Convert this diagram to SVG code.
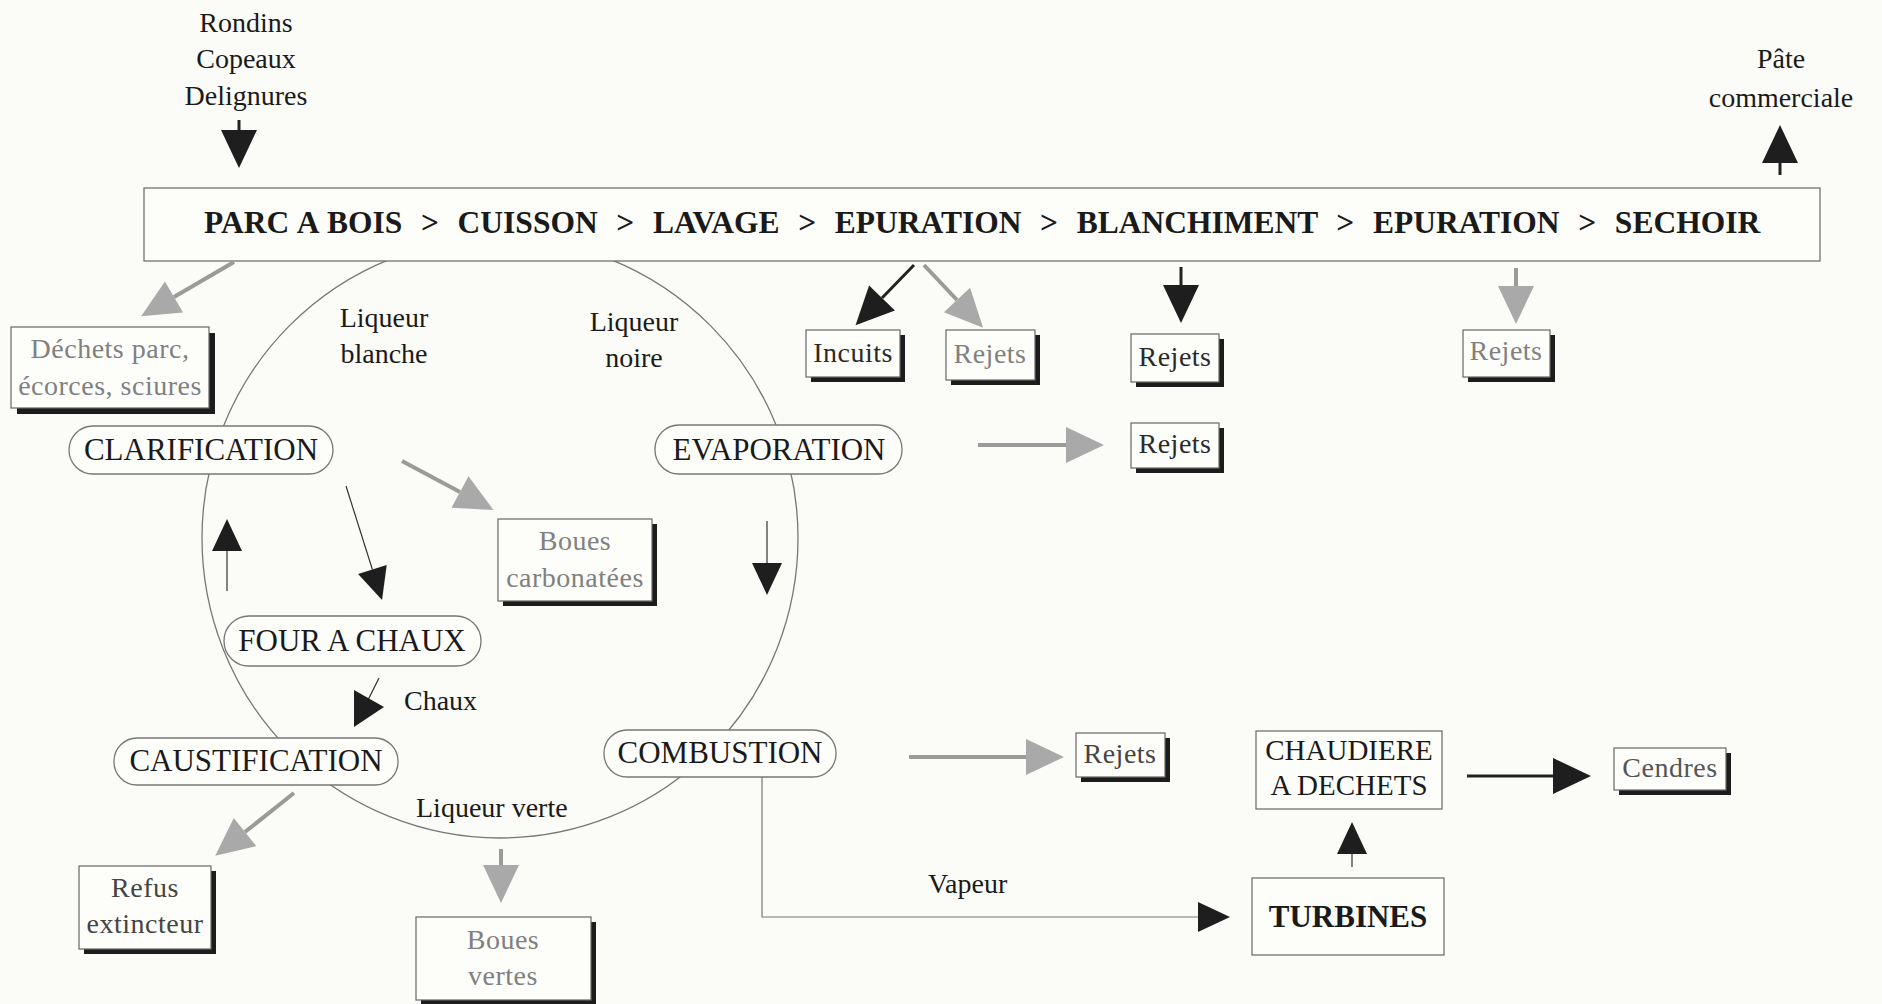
<svg xmlns="http://www.w3.org/2000/svg" width="1882" height="1004" viewBox="0 0 1882 1004">
<defs>
<style>
text{font-family:"Liberation Serif","Times New Roman",serif;fill:#1a1a1a;font-size:28px;text-anchor:middle}
.main{font-size:31.5px;font-weight:bold;text-anchor:start;white-space:pre;word-spacing:1.45px}
.pill{fill:#fdfdfa;stroke:#777;stroke-width:1.3}
.pt{font-size:31px}
.box{fill:#fdfdfa;stroke:#666;stroke-width:1.2}
.sh{fill:#1c1c1c}
.gt{fill:#808080;letter-spacing:0.5px}
.dt{fill:#2a2a2a;letter-spacing:0.5px}
.ga{stroke:#9a9a9a;stroke-width:4;fill:none}
.da{stroke:#222;stroke-width:3;fill:none}
.ta{stroke:#333;stroke-width:1.2;fill:none}
.circ{fill:none;stroke:#777;stroke-width:1.3}
</style>
<marker id="hd" markerUnits="userSpaceOnUse" orient="auto" markerWidth="38" markerHeight="36" refX="0" refY="18" viewBox="0 0 38 36" overflow="visible"><path d="M0,0 L38,18 L0,36 z" fill="#1e1e1e"/></marker>
<marker id="hg" markerUnits="userSpaceOnUse" orient="auto" markerWidth="38" markerHeight="36" refX="0" refY="18" viewBox="0 0 38 36" overflow="visible"><path d="M0,0 L38,18 L0,36 z" fill="#a9a9a9"/></marker>
<marker id="hs" markerUnits="userSpaceOnUse" orient="auto" markerWidth="32" markerHeight="30" refX="0" refY="15" viewBox="0 0 32 30" overflow="visible"><path d="M0,0 L32,15 L0,30 z" fill="#1e1e1e"/></marker>
</defs>
<rect width="1882" height="1004" fill="#fbfbf7"/>

<g id="cycle">
<ellipse class="circ" cx="500" cy="538" rx="298" ry="300"/>
</g>

<g id="inputs">
<text x="246" y="32">Rondins</text>
<text x="246" y="68">Copeaux</text>
<text x="246" y="105">Delignures</text>
</g>
<g id="output">
<text x="1781" y="68">Pâte</text>
<text x="1781" y="107">commerciale</text>
</g>

<g id="main-line">
<rect class="box" x="144" y="188" width="1676" height="73" stroke="#888"/>
<text class="main" x="204" y="233">PARC A BOIS  &gt;  CUISSON  &gt;  LAVAGE  &gt;  EPURATION  &gt;  BLANCHIMENT  &gt;  EPURATION  &gt;  SECHOIR</text>
</g>

<g id="labels">
<text x="384" y="327">Liqueur</text>
<text x="384" y="363">blanche</text>
<text x="634" y="331">Liqueur</text>
<text x="634" y="367">noire</text>
<text x="404" y="710" style="text-anchor:start">Chaux</text>
<text x="416" y="817" style="text-anchor:start">Liqueur verte</text>
<text x="928" y="893" style="text-anchor:start">Vapeur</text>
</g>

<g id="clarification"><rect class="pill" x="69" y="426" width="264" height="48" rx="24"/><text class="pt" x="201" y="460">CLARIFICATION</text></g>
<g id="evaporation"><rect class="pill" x="655" y="425" width="247" height="49" rx="24"/><text class="pt" x="779" y="460">EVAPORATION</text></g>
<g id="four-a-chaux"><rect class="pill" x="224" y="616" width="257" height="50" rx="25"/><text class="pt" x="352" y="651">FOUR A CHAUX</text></g>
<g id="caustification"><rect class="pill" x="114" y="738" width="284" height="47" rx="23"/><text class="pt" x="256" y="771">CAUSTIFICATION</text></g>
<g id="combustion"><rect class="pill" x="604" y="730" width="232" height="47" rx="23"/><text class="pt" x="720" y="763">COMBUSTION</text></g>

<g id="dechets-parc"><rect class="sh" x="17" y="333" width="198" height="81"/><rect class="box" x="11" y="327" width="198" height="81"/><text class="gt" x="110" y="358">Déchets parc,</text><text class="gt" x="110" y="395">écorces, sciures</text></g>
<g id="incuits"><rect class="sh" x="811" y="335" width="94" height="47"/><rect class="box" x="806" y="330" width="94" height="47"/><text class="dt" x="853" y="362">Incuits</text></g>
<g id="rejets-1"><rect class="sh" x="951" y="335" width="89" height="50"/><rect class="box" x="946" y="330" width="89" height="50"/><text class="gt" x="990" y="363">Rejets</text></g>
<g id="rejets-2"><rect class="sh" x="1136" y="339" width="88" height="48"/><rect class="box" x="1131" y="334" width="88" height="48"/><text class="dt" x="1175" y="366">Rejets</text></g>
<g id="rejets-3"><rect class="sh" x="1468" y="335" width="87" height="47"/><rect class="box" x="1463" y="330" width="87" height="47"/><text class="gt" x="1506" y="360">Rejets</text></g>
<g id="rejets-4"><rect class="sh" x="1136" y="428" width="88" height="45"/><rect class="box" x="1131" y="423" width="88" height="45"/><text class="dt" x="1175" y="453">Rejets</text></g>
<g id="boues-carbonatees"><rect class="sh" x="503" y="524" width="154" height="82"/><rect class="box" x="498" y="519" width="154" height="82"/><text class="gt" x="575" y="550">Boues</text><text class="gt" x="575" y="587">carbonatées</text></g>
<g id="refus-extincteur"><rect class="sh" x="84" y="871" width="132" height="83"/><rect class="box" x="79" y="866" width="132" height="83"/><text class="dt" x="145" y="897" style="fill:#444">Refus</text><text class="dt" x="145" y="933" style="fill:#444">extincteur</text></g>
<g id="boues-vertes"><rect class="sh" x="421" y="922" width="175" height="83"/><rect class="box" x="416" y="917" width="175" height="83"/><text class="gt" x="503" y="949">Boues</text><text class="gt" x="503" y="985">vertes</text></g>
<g id="rejets-5"><rect class="sh" x="1081" y="738" width="89" height="44"/><rect class="box" x="1076" y="733" width="89" height="44"/><text class="dt" x="1120" y="763" style="fill:#444">Rejets</text></g>
<g id="cendres"><rect class="sh" x="1619" y="753" width="112" height="42"/><rect class="box" x="1614" y="748" width="112" height="42"/><text class="gt" x="1670" y="777" style="fill:#555">Cendres</text></g>
<g id="chaudiere"><rect class="box" x="1256" y="731" width="186" height="78"/><text x="1349" y="760" style="font-size:29px">CHAUDIERE</text><text x="1349" y="795" style="font-size:29px">A DECHETS</text></g>
<g id="turbines"><rect class="box" x="1252" y="878" width="192" height="77"/><text x="1348" y="927" style="font-size:31px;font-weight:bold">TURBINES</text></g>

<g id="connectors">
<line class="da" x1="239" y1="120" x2="239" y2="130" marker-end="url(#hd)"/>
<line class="da" x1="1780" y1="175" x2="1780" y2="163" marker-end="url(#hd)"/>
<line class="ga" x1="234" y1="262" x2="174" y2="297" marker-end="url(#hg)"/>
<line class="da" x1="914" y1="265" x2="882" y2="298" marker-end="url(#hd)"/>
<line class="ga" x1="924" y1="265" x2="957" y2="300" marker-end="url(#hg)"/>
<line class="da" x1="1181" y1="267" x2="1181" y2="285" marker-end="url(#hd)"/>
<line class="ga" x1="1516" y1="268" x2="1516" y2="286" marker-end="url(#hg)"/>
<line class="ga" x1="978" y1="445" x2="1066" y2="445" marker-end="url(#hg)"/>
<line class="ga" x1="402" y1="461" x2="460" y2="492" marker-end="url(#hg)"/>
<line class="ta" x1="346" y1="486" x2="372.4" y2="569.5" marker-end="url(#hs)"/>
<line class="ta" x1="227" y1="591" x2="227" y2="551" marker-end="url(#hs)"/>
<line class="ta" x1="767" y1="521" x2="767" y2="563" marker-end="url(#hs)"/>
<line class="ta" x1="379" y1="678" x2="368" y2="700"/>
<polygon points="354,690 354,727 384,707" fill="#1e1e1e"/>
<line class="ga" x1="294" y1="793" x2="245" y2="832" marker-end="url(#hg)"/>
<line class="ga" x1="501" y1="849" x2="501" y2="865" marker-end="url(#hg)"/>
<line class="ga" x1="909" y1="757" x2="1026" y2="757" marker-end="url(#hg)"/>
<line class="da" x1="1467" y1="776" x2="1553" y2="776" marker-end="url(#hd)"/>
<line class="ta" x1="1352" y1="867" x2="1352" y2="854" marker-end="url(#hs)"/>
<polyline fill="none" stroke="#777" stroke-width="1.2" points="762,777 762,917 1198,917" marker-end="url(#hs)"/>
</g>
</svg>
